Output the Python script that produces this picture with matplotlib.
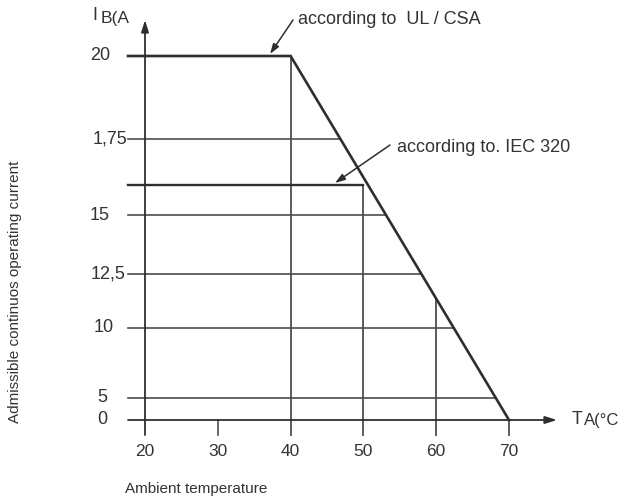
import numpy as np
import matplotlib.pyplot as plt

plt.rcParams['font.family'] = ['Liberation Sans', 'DejaVu Sans']

# values
temp_ticks = [20, 30, 40, 50, 60, 70]
temp_labels = ['20', '30', '40', '50', '60', '70']
current_levels = [0, 5, 10, 12.5, 15, 17.5, 20]
current_labels = ['0', '5', '10', '12,5', '15', '1,75', '20']
ul_temp = [40, 70]        # UL / CSA: flat to 40 C, then down to 0 A at 70 C
ul_current = [20, 0]
iec_temp = 50             # IEC 320: flat 16 A up to 50 C
iec_current = 16

# the printed current axis is not linear, so use a piecewise scale
# (height of every printed level above the T axis, in pixels)
level_height = [0, 22, 92, 146, 205, 281, 364]
sc_v = np.array([-100] + current_levels + [100])
sc_h = np.array([-440] + level_height + [364 + 80 * 33.2])


def fwd(v):
    return np.interp(v, sc_v, sc_h)


def inv(h):
    return np.interp(h, sc_h, sc_v)


# page layout in pixels (622 x 500)
W, H = 622, 500
x20_px, px_per_deg = 145, 7.28
base_row = 420


def tx(px):
    return 20 + (px - x20_px) / px_per_deg


def ty(row):
    return inv(base_row - row)


fig = plt.figure(figsize=(W / 100, H / 100), dpi=100)
ax = fig.add_axes([0, 0, 1, 1])
ax.set_yscale('function', functions=(fwd, inv))
ax.set_xlim(tx(0), tx(W))
ax.set_ylim(ty(H), ty(0))
ax.axis('off')

main_c = '#2e2e2e'
grid_c = '#4d4d4d'
txt_c = '#333333'
x_left = tx(128)
y_below = ty(435)


def diag_x(v):
    # the derating line is straight on paper
    f = (fwd(ul_current[0]) - fwd(v)) / (fwd(ul_current[0]) - fwd(ul_current[1]))
    return ul_temp[0] + (ul_temp[1] - ul_temp[0]) * f


def diag_y(t):
    f = (t - ul_temp[0]) / (ul_temp[1] - ul_temp[0])
    return inv(fwd(ul_current[0]) + (fwd(ul_current[1]) - fwd(ul_current[0])) * f)


# horizontal grid lines up to the derating line
for v in current_levels[1:-1]:
    ax.plot([x_left, diag_x(v)], [v, v], color=grid_c, lw=1.2)

# vertical lines / ticks
ax.plot([30, 30], [y_below, 0], color=grid_c, lw=1.2)
ax.plot([40, 40], [y_below, ul_current[0]], color=grid_c, lw=1.3)
ax.plot([iec_temp, iec_temp], [y_below, iec_current], color=grid_c, lw=1.3)
ax.plot([60, 60], [y_below, diag_y(60)], color=grid_c, lw=1.3)
ax.plot([70, 70], [y_below, 0], color=grid_c, lw=1.3)

# curves
ax.plot([x_left] + ul_temp, [ul_current[0]] + ul_current, color=main_c, lw=1.9,
        solid_joinstyle='miter')
ax.plot([x_left, iec_temp], [iec_current, iec_current], color=main_c, lw=1.7)

# axes with arrows
arr = dict(arrowstyle='-|>,head_length=0.7,head_width=0.22', color=main_c, lw=1.3,
           shrinkA=0, shrinkB=0)
ax.annotate('', xy=(tx(557), 0), xytext=(x_left, 0), arrowprops=arr)
ax.annotate('', xy=(20, ty(20)), xytext=(20, y_below), arrowprops=arr)

# tick labels
ylab_cx = [102, 102, 104, 108, 100, 110, 100]
for v, lab, cx in zip(current_levels, current_labels, ylab_cx):
    ax.text(tx(cx), v, lab, ha='center', va='center', fontsize=13, color=txt_c)
for t, lab in zip(temp_ticks, temp_labels):
    ax.text(t, ty(452), lab, ha='center', va='center', fontsize=12.5, color=txt_c)

# axis titles
fig.text(95 / W, 1 - 15 / H, 'I', fontsize=13, ha='center', va='center', color=txt_c)
fig.text(101 / W, 1 - 18 / H, 'B(A', fontsize=12.5, ha='left', va='center', color=txt_c)
fig.text(572 / W, 1 - 420 / H, 'T', fontsize=13, ha='left', va='center', color=txt_c)
fig.text(584 / W, 1 - 421 / H, 'A(°C', fontsize=12, ha='left', va='center', color=txt_c)
fig.text(125 / W, 1 - 489 / H, 'Ambient temperature', fontsize=11, ha='left',
         va='center', color=txt_c)
fig.text(15 / W, 1 - 292 / H, 'Admissible continuos operating current', fontsize=11,
         rotation=90, ha='center', va='center', color=txt_c)

# annotations
arr2 = dict(arrowstyle='-|>,head_length=0.6,head_width=0.2', color=main_c, lw=1.1,
            shrinkA=0, shrinkB=0)
ax.annotate('', xy=(tx(270), ty(54)), xytext=(tx(293), ty(20)), arrowprops=arr2)
fig.text(298 / W, 1 - 20 / H, 'according to  UL / CSA', fontsize=13, ha='left',
         va='center', color=txt_c)
ax.annotate('', xy=(tx(335), ty(183)), xytext=(tx(390), ty(145)), arrowprops=arr2)
fig.text(397 / W, 1 - 147 / H, 'according to. IEC 320', fontsize=13, ha='left',
         va='center', color=txt_c)

fig.savefig('out.png', dpi=100)
